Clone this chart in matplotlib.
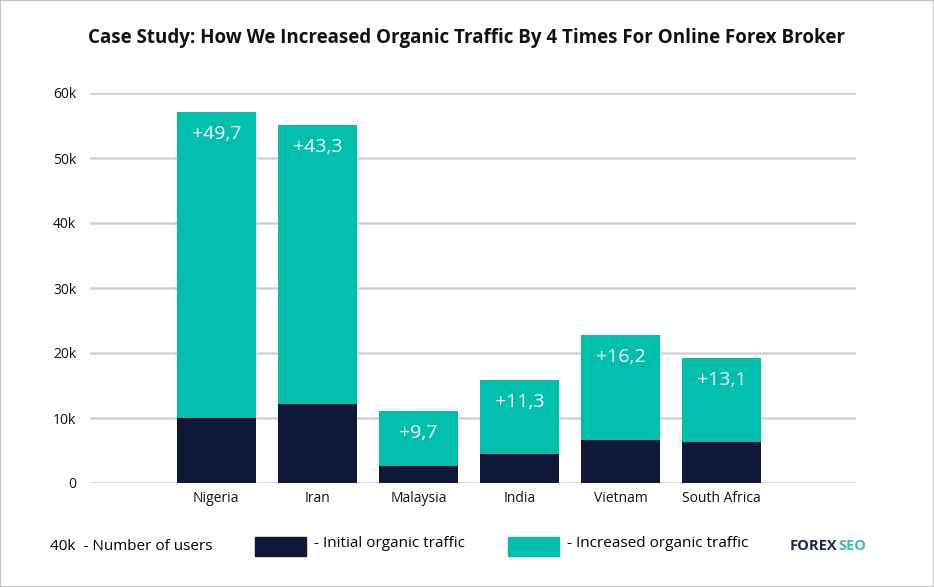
import matplotlib.pyplot as plt
from matplotlib.patches import Rectangle

# Data (thousands of users)
countries = ["Nigeria", "Iran", "Malaysia", "India", "Vietnam", "South Africa"]
initial_traffic = [10.0, 12.15, 2.6, 4.5, 6.6, 6.3]
total_traffic = [57.1, 55.1, 11.1, 15.8, 22.8, 19.2]
increase_labels = ["+49,7", "+43,3", "+9,7", "+11,3", "+16,2", "+13,1"]
y_ticks = [0, 10, 20, 30, 40, 50, 60]
y_tick_labels = ["0", "10k", "20k", "30k", "40k", "50k", "60k"]

dark = "#10183a"
teal = "#00c0ad"
plt.rcParams["font.family"] = ["Open Sans", "DejaVu Sans"]

fig = plt.figure(figsize=(9.34, 5.87), dpi=100)
ax = fig.add_axes([90 / 934, 1 - 483 / 587, (856 - 90) / 934, (483 - 93) / 587])

x = list(range(len(countries)))
increase = [t - i for t, i in zip(total_traffic, initial_traffic)]
ax.bar(x, initial_traffic, width=0.78, color=dark, zorder=3)
ax.bar(x, increase, bottom=initial_traffic, width=0.78, color=teal, zorder=3)

# labels near the top of each teal segment
for xi, top, lab in zip(x, total_traffic, increase_labels):
    ax.text(xi, top - 3.4, lab, ha="center", va="center", color="white",
            fontsize=14, zorder=4)

ax.set_xlim(-1.25, 6.33)
ax.set_ylim(0, 60)
ax.set_yticks(y_ticks)
ax.set_yticklabels(y_tick_labels)
ax.set_xticks(x)
ax.set_xticklabels(countries)
ax.tick_params(axis="both", length=0, labelsize=10, colors="#111111")
ax.tick_params(axis="y", pad=10)
ax.tick_params(axis="x", pad=6)
ax.grid(axis="y", color="#d0d2d6", linewidth=1.8, zorder=0)
ax.set_axisbelow(True)
for s in ax.spines.values():
    s.set_visible(False)

fig.text(0.5, 1 - 38 / 587,
         "Case Study: How We Increased Organic Traffic By 4 Times For Online Forex Broker",
         ha="center", va="center", fontsize=13.5, fontweight="bold", color="#111111")

# bottom legend
ly = 1 - 546 / 587
fig.text(50 / 934, ly, "40k  - Number of users", ha="left", va="center", fontsize=11)
fig.patches.append(Rectangle((255 / 934, 1 - 556 / 587), 51 / 934, 19 / 587,
                             transform=fig.transFigure, color=dark, figure=fig))
fig.text(314 / 934, ly + 0.004, "- Initial organic traffic", ha="left", va="center", fontsize=11)
fig.patches.append(Rectangle((508 / 934, 1 - 556 / 587), 51 / 934, 19 / 587,
                             transform=fig.transFigure, color=teal, figure=fig))
fig.text(567 / 934, ly + 0.004, "- Increased organic traffic", ha="left", va="center", fontsize=11)

# logo text: "FOREX" dark, "SEO" teal, placed right after it
forex = fig.text(790 / 934, ly, "FOREX", ha="left", va="center", fontsize=10.5,
                 fontweight="bold", color="#1c2747")
renderer = fig.canvas.get_renderer()
bb = forex.get_window_extent(renderer=renderer)
fig.text(bb.x1 / fig.bbox.width + 1 / 934, ly, "SEO", ha="left", va="center",
         fontsize=10.5, fontweight="bold", color="#3dbfae")

# thin frame around the image
fig.patches.append(Rectangle((0, 0), 1, 1, transform=fig.transFigure, fill=False,
                             edgecolor="#c4c4c4", linewidth=1.5, figure=fig))

fig.savefig("out.png", dpi=100)
